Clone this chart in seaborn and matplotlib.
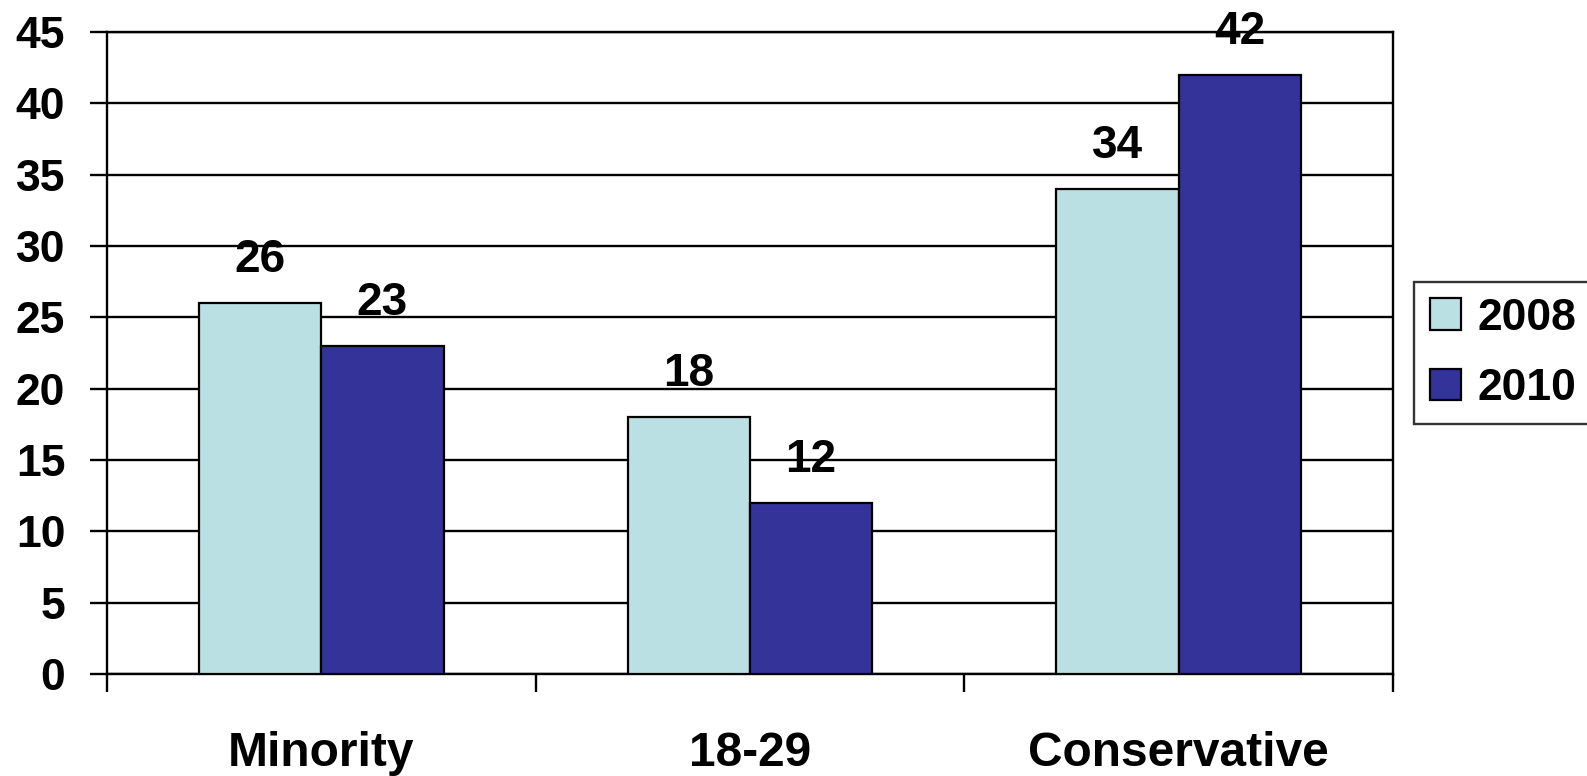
import matplotlib
matplotlib.use("Agg")
import matplotlib.pyplot as plt
import seaborn as sns
import pandas as pd
from matplotlib.ticker import FixedLocator, MultipleLocator

# Data
groups = ["Minority", "18-29", "Conservative"]
years = ["2008", "2010"]
values_2008 = [26, 18, 34]
values_2010 = [23, 12, 42]
bar_colors = ["#BBE0E3", "#333399"]

df = pd.DataFrame({
    "group": groups * 2,
    "year": [years[0]] * len(groups) + [years[1]] * len(groups),
    "value": values_2008 + values_2010,
})

sns.set_theme(style="white")
plt.rcParams["font.family"] = ["Liberation Sans", "DejaVu Sans"]
plt.rcParams["font.weight"] = "bold"
plt.rcParams["text.color"] = "black"
plt.rcParams["xtick.color"] = "black"
plt.rcParams["ytick.color"] = "black"
plt.rcParams["xtick.labelcolor"] = "black"
plt.rcParams["ytick.labelcolor"] = "black"
plt.rcParams["legend.labelcolor"] = "black"

fig = plt.figure(figsize=(15.87, 7.76), dpi=100)
ax = fig.add_axes([107 / 1587, 1 - 674 / 776, (1393 - 107) / 1587, (674 - 32) / 776])

sns.barplot(
    data=df, x="group", y="value", hue="year", order=groups, hue_order=years,
    palette=bar_colors, saturation=1, width=0.57,
    edgecolor="black", linewidth=1.6, ax=ax, zorder=3,
)

for container in ax.containers:
    ax.bar_label(container, fmt="%d", fontsize=33, fontweight="bold",
                 padding=15, color="black")

ax.set_ylim(0, 45)
ax.set_xlim(-0.5, 2.5)
ax.yaxis.set_major_locator(MultipleLocator(5))
ax.grid(axis="y", color="black", linewidth=1.7, zorder=0)
ax.set_axisbelow(True)
ax.set_xlabel("")
ax.set_ylabel("")

for side in ["left", "bottom", "right", "top"]:
    ax.spines[side].set_visible(True)
    ax.spines[side].set_color("black")
    ax.spines[side].set_linewidth(1.7)

ax.tick_params(axis="y", which="major", left=True, length=12, width=1.7,
               pad=18, labelsize=32, colors="black")
ax.xaxis.set_minor_locator(FixedLocator([-0.5, 0.5, 1.5, 2.5]))
ax.tick_params(axis="x", which="minor", bottom=True, length=13, width=1.7,
               color="black")
ax.tick_params(axis="x", which="major", bottom=False, length=0, pad=41,
               labelsize=34.5, colors="black")
for lbl in ax.get_xticklabels() + ax.get_yticklabels():
    lbl.set_fontweight("bold")
    lbl.set_color("black")

leg = ax.legend(
    loc="upper left", bbox_to_anchor=(1414 / 1587, 1 - 282 / 776),
    bbox_transform=fig.transFigure, title=None, fontsize=32,
    frameon=True, fancybox=False, edgecolor="black",
    handlelength=0.7, handleheight=0.7, handletextpad=0.38,
    labelspacing=0.66, borderpad=0.35, borderaxespad=0,
)
leg.get_frame().set_linewidth(1.7)
for t in leg.get_texts():
    t.set_fontweight("bold")
    t.set_color("black")
for h in leg.legend_handles:
    h.set_edgecolor("black")
    h.set_linewidth(1.6)

fig.savefig("out.png", dpi=100)
